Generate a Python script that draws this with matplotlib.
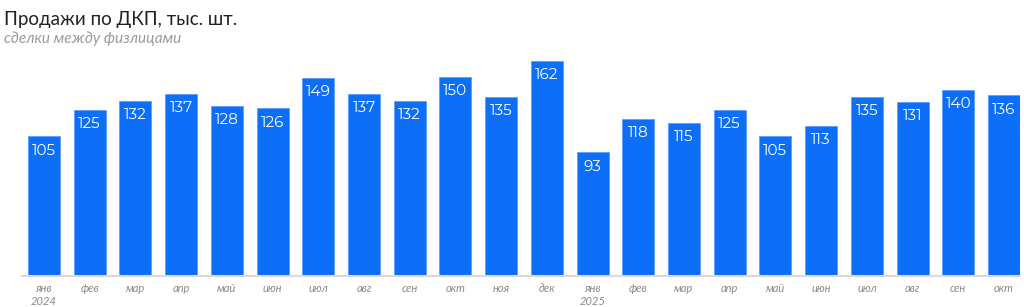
import matplotlib.pyplot as plt
import numpy as np

plt.rcParams['font.family'] = ['Lato', 'DejaVu Sans']
NUM_FONT = ['Montserrat Alternates', 'DejaVu Sans']

# данные
months = ['янв\n2024', 'фев', 'мар', 'апр', 'май', 'июн', 'июл', 'авг', 'сен', 'окт', 'ноя', 'дек',
          'янв\n2025', 'фев', 'мар', 'апр', 'май', 'июн', 'июл', 'авг', 'сен', 'окт']
sales = [105, 125, 132, 137, 128, 126, 149, 137, 132, 150, 135, 162,
         93, 118, 115, 125, 105, 113, 135, 131, 140, 136]

BAR = '#0d6ef7'

fig = plt.figure(figsize=(10.24, 3.07), dpi=100)
ax = fig.add_axes([22 / 1024, 1 - 276 / 307, 998 / 1024, 226 / 307])

x = np.arange(len(sales))
ax.bar(x, sales, width=0.7, color=BAR, edgecolor='#5fa0fa', linewidth=0.6)

for xi, v in zip(x, sales):
    ax.text(xi, v - 5.5, str(v), ha='center', va='top', color='white', fontsize=11, family=NUM_FONT)

ax.set_xlim(-0.48, len(sales) - 0.65)
ax.set_ylim(0, 170)
ax.set_yticks([])
ax.set_xticks(x)
ax.set_xticklabels(months, fontsize=8, style='italic', color='#8a8a8a', linespacing=1.2)
ax.tick_params(axis='x', length=0, pad=5)
for s in ['top', 'right', 'left']:
    ax.spines[s].set_visible(False)
ax.spines['bottom'].set_color('#d9d9d9')
ax.spines['bottom'].set_linewidth(1.5)

fig.text(4 / 1024, 1 - 20 / 307, 'Продажи по ДКП, тыс. шт.', fontsize=13.5, color='#222222', va='center')
fig.text(4 / 1024, 1 - 39 / 307, 'сделки между физлицами', fontsize=11, style='italic',
         color='#9a9a9a', va='center')

fig.savefig('out.png', dpi=100)
